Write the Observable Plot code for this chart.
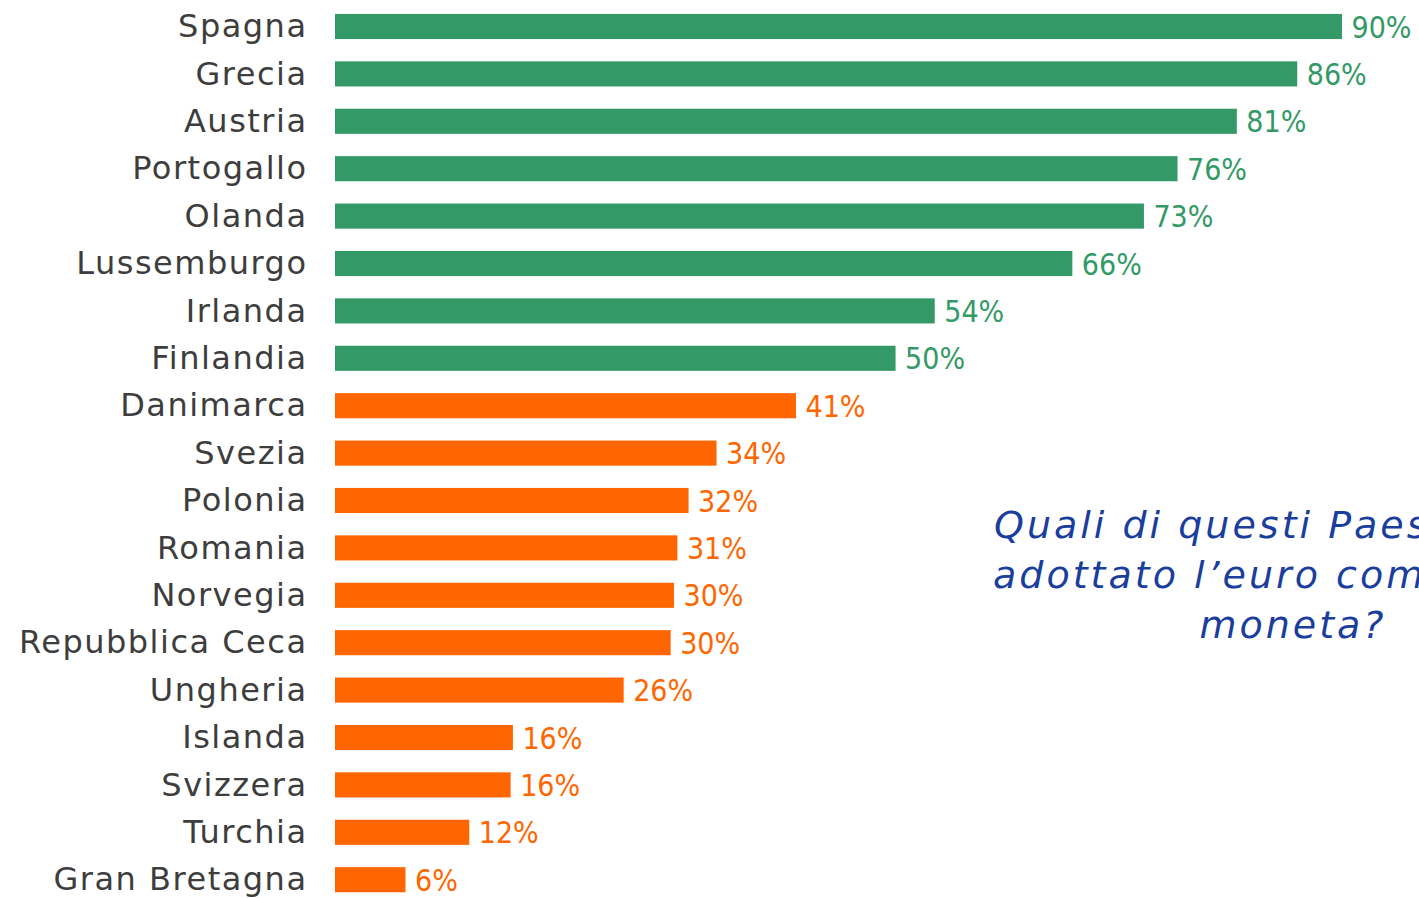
<!DOCTYPE html>
<html>
<head>
<meta charset="utf-8">
<script src="https://cdn.jsdelivr.net/npm/d3@7"></script>
<script src="https://cdn.jsdelivr.net/npm/@observablehq/plot@0.6"></script>
<style>
  html, body { margin: 0; padding: 0; background: #fff; overflow: hidden; width: 1419px; height: 898px; }
  #wrap { position: relative; width: 1419px; height: 898px; overflow: hidden; }
  #question {
    position: absolute; left: 993px; top: 500px; width: 600px;
    font-family: "DejaVu Sans", sans-serif; font-style: italic; font-size: 38px;
    letter-spacing: 3px;
    line-height: 50px; color: #1a3e9c; text-align: center; white-space: nowrap;
  }
</style>
</head>
<body>
<div id="wrap">
  <div id="chart"></div>
  <div id="question">Quali di questi Paesi hanno<br>adottato l’euro come propria<br>moneta?</div>
</div>
<script>
const countries = ["Spagna","Grecia","Austria","Portogallo","Olanda","Lussemburgo","Irlanda","Finlandia","Danimarca","Svezia","Polonia","Romania","Norvegia","Repubblica Ceca","Ungheria","Islanda","Svizzera","Turchia","Gran Bretagna"];
const values = [90, 86, 80.6, 75.3, 72.3, 65.9, 53.6, 50.1, 41.2, 34.1, 31.6, 30.6, 30.3, 30.0, 25.8, 15.9, 15.7, 12.0, 6.3];
const labels = ["90%","86%","81%","76%","73%","66%","54%","50%","41%","34%","32%","31%","30%","30%","26%","16%","16%","12%","6%"];
const groups = ["euro","euro","euro","euro","euro","euro","euro","euro","non","non","non","non","non","non","non","non","non","non","non"];

const data = countries.map((c, i) => ({country: c, value: values[i], label: labels[i], group: groups[i]}));

const chart = Plot.plot({
  width: 1419,
  height: 898,
  marginLeft: 335,
  marginRight: 0,
  marginTop: 0,
  marginBottom: 0,
  style: {background: "#fff", fontFamily: "DejaVu Sans, sans-serif"},
  x: {domain: [0, 90], range: [335, 1342], axis: null},
  y: {domain: countries, range: [2.8, 903.4], paddingInner: 0.47, paddingOuter: 0.235, round: false, label: null},
  color: {domain: ["euro", "non"], range: ["#339966", "#ff6600"]},
  marks: [
    Plot.barX(data, {x: "value", y: "country", fill: "group"}),
    Plot.text(data, {x: "value", y: "country", text: "label", fill: "group", textAnchor: "start", dx: 9, dy: 1,
      fontSize: 30, fontFamily: "DejaVu Sans Condensed, Liberation Sans Narrow, sans-serif", fontWeight: 300}),
    Plot.axisY({tickSize: 0, tickPadding: 28, fontSize: 32, fill: "#3d3d3d", label: null,
      fontFamily: "DejaVu Sans, sans-serif"})
  ]
});
chart.querySelectorAll("g[aria-label='y-axis tick label'] text").forEach(t => t.setAttribute("letter-spacing", "1.5"));
document.getElementById("chart").appendChild(chart);
</script>
</body>
</html>
